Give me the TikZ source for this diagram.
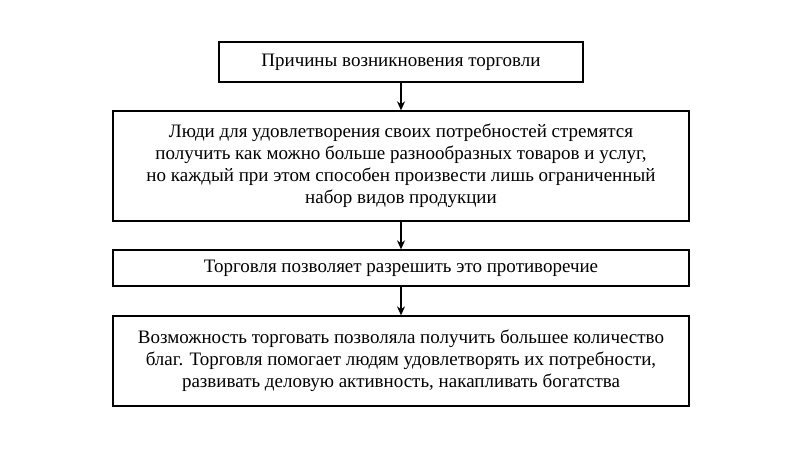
\documentclass[tikz,border=0pt]{standalone}
\usepackage{fontspec}
\setmainfont{Liberation Serif}
\usetikzlibrary{arrows.meta}
\begin{document}
\begin{tikzpicture}[x=1pt,y=-1pt,
  box/.style={draw,line width=1.3pt,minimum height=#1,inner sep=0pt,align=center,font=\fontsize{19}{22}\selectfont},
  arr/.style={-{Stealth[length=9pt,width=8pt]},line width=1.1pt}]
\useasboundingbox (0,0) rectangle (800,450);
\node[box=40pt,minimum width=364pt] (a) at (401,62) {Причины возникновения торговли};
\node[box=110pt,minimum width=576pt] (b) at (401,166) {Люди для удовлетворения своих потребностей стремятся\\получить как можно больше разнообразных товаров и услуг,\\но каждый при этом способен произвести лишь ограниченный\\набор видов продукции};
\node[box=36pt,minimum width=576pt] (c) at (401,268) {Торговля позволяет разрешить это противоречие};
\node[box=90pt,minimum width=576pt] (d) at (401,361) {Возможность торговать позволяла получить большее количество\\благ. Торговля помогает людям удовлетворять их потребности,\\развивать деловую активность, накапливать богатства};
\draw[arr] (a.south) -- (b.north);
\draw[arr] (b.south) -- (c.north);
\draw[arr] (c.south) -- (d.north);
\end{tikzpicture}
\end{document}
